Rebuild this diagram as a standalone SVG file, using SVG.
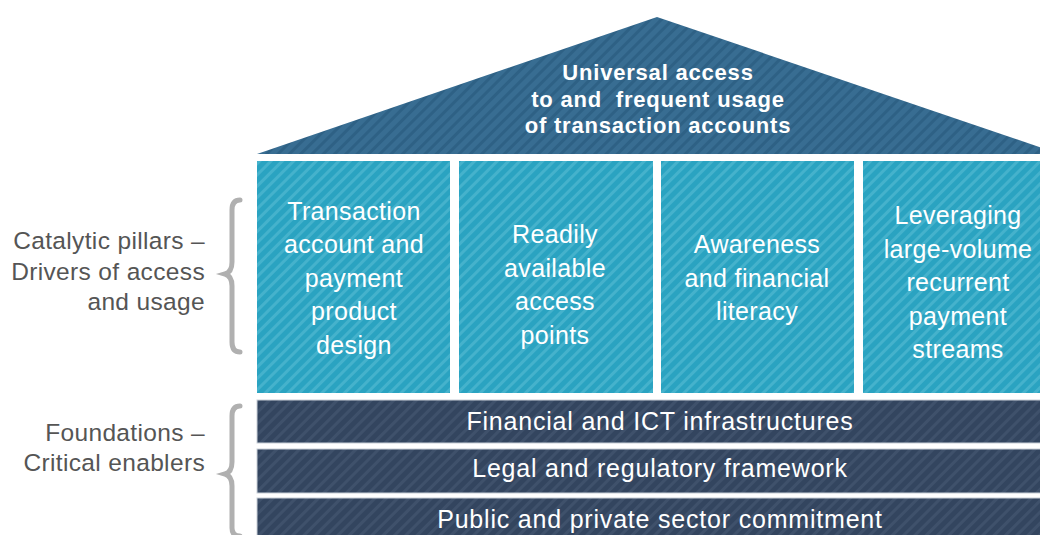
<svg xmlns="http://www.w3.org/2000/svg" width="1040" height="535" viewBox="0 0 1040 535">
<defs>
<pattern id="pRoof" patternUnits="userSpaceOnUse" width="8" height="8" patternTransform="rotate(45)">
<rect width="8" height="8" fill="#386d92"/><rect width="3" height="8" fill="#2e6185"/>
</pattern>
<pattern id="pPillar" patternUnits="userSpaceOnUse" width="8" height="8" patternTransform="rotate(45)">
<rect width="8" height="8" fill="#2aa3c1"/><rect width="3" height="8" fill="#45b2cc"/>
</pattern>
<pattern id="pBar" patternUnits="userSpaceOnUse" width="8" height="8" patternTransform="rotate(45)">
<rect width="8" height="8" fill="#33455f"/><rect width="3" height="8" fill="#3f516b"/>
</pattern>
<style>
.roof{fill:url(#pRoof)}
.pillar{fill:url(#pPillar)}
.bar{fill:url(#pBar);stroke:#c9d0d8;stroke-width:1}
.rt{font-family:"Liberation Sans",Arial,sans-serif;font-size:22px;font-weight:bold;fill:#fff;text-anchor:middle;letter-spacing:0.8px}
.pt{font-family:"Liberation Sans",Arial,sans-serif;font-size:25px;fill:#fff;text-anchor:middle;letter-spacing:0.35px}
.bt{font-family:"Liberation Sans",Arial,sans-serif;font-size:25px;fill:#fff;text-anchor:middle;letter-spacing:0.8px}
.lt{font-family:"Liberation Sans",Arial,sans-serif;font-size:24.5px;fill:#555;text-anchor:end;letter-spacing:0.35px}
.brace{fill:none;stroke:#b0b0b0;stroke-width:5;stroke-linecap:round}
</style>
</defs>
<rect width="1040" height="535" fill="#fff"/>
<g id="roof">
<polygon class="roof" points="657,17 257,154 1060,154"/>
<text class="rt" x="658" y="80">Universal access</text>
<text class="rt" x="658" y="107" xml:space="preserve">to and  frequent usage</text>
<text class="rt" x="658" y="133">of transaction accounts</text>
</g>
<g id="pillar1">
<rect class="pillar" x="257" y="161" width="193" height="232"/>
<text class="pt" x="354" y="220">Transaction</text>
<text class="pt" x="354" y="253">account and</text>
<text class="pt" x="354" y="287">payment</text>
<text class="pt" x="354" y="320">product</text>
<text class="pt" x="354" y="354">design</text>
</g>
<g id="pillar2">
<rect class="pillar" x="459" y="161" width="194" height="232"/>
<text class="pt" x="555" y="243">Readily</text>
<text class="pt" x="555" y="277">available</text>
<text class="pt" x="555" y="310">access</text>
<text class="pt" x="555" y="344">points</text>
</g>
<g id="pillar3">
<rect class="pillar" x="661" y="161" width="193" height="232"/>
<text class="pt" x="757" y="253">Awareness</text>
<text class="pt" x="757" y="287">and financial</text>
<text class="pt" x="757" y="320">literacy</text>
</g>
<g id="pillar4">
<rect class="pillar" x="863" y="161" width="194" height="232"/>
<text class="pt" x="958" y="224">Leveraging</text>
<text class="pt" x="958" y="258">large-volume</text>
<text class="pt" x="958" y="291">recurrent</text>
<text class="pt" x="958" y="325">payment</text>
<text class="pt" x="958" y="358">streams</text>
</g>
<g id="foundation1">
<rect class="bar" x="257" y="400" width="806" height="43"/>
<text class="bt" x="660" y="430">Financial and ICT infrastructures</text>
</g>
<g id="foundation2">
<rect class="bar" x="257" y="449" width="806" height="44"/>
<text class="bt" x="660" y="477">Legal and regulatory framework</text>
</g>
<g id="foundation3">
<rect class="bar" x="257" y="498" width="806" height="50"/>
<text class="bt" x="660" y="528">Public and private sector commitment</text>
</g>
<g id="label-pillars">
<text class="lt" x="205" y="249">Catalytic pillars –</text>
<text class="lt" x="205" y="280">Drivers of access</text>
<text class="lt" x="205" y="310">and usage</text>
<path class="brace" d="M240,200 Q232,200 232,210 L232,262 Q232,272 225,274 Q232,276 232,286 L232,342 Q232,352 240,352"/>
</g>
<g id="label-foundations">
<text class="lt" x="205" y="441">Foundations –</text>
<text class="lt" x="205" y="471">Critical enablers</text>
<path class="brace" d="M240,406 Q232,406 232,416 L232,462 Q232,472 225,474 Q232,476 232,486 L232,528 Q232,536 240,536"/>
</g>
<g id="connectors"/>
</svg>
